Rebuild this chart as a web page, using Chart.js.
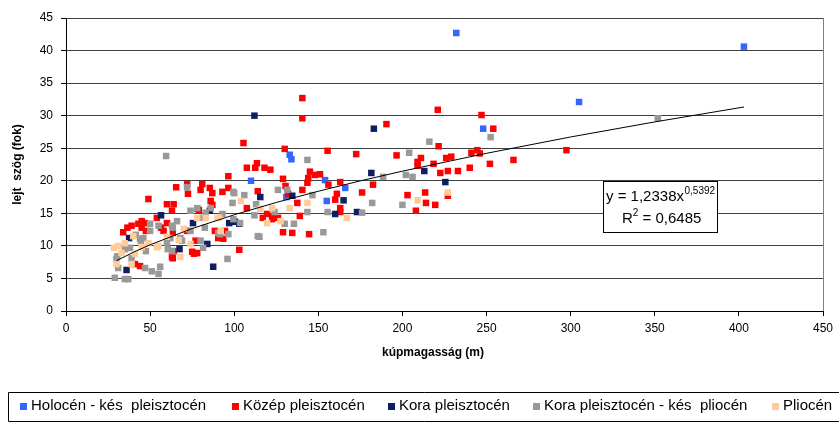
<!DOCTYPE html>
<html>
<head>
<meta charset="utf-8">
<script src="https://cdn.jsdelivr.net/npm/chart.js@4/dist/chart.umd.min.js"></script>
<style>
  html, body { margin: 0; padding: 0; background: #fff; }
  #wrap { width: 839px; height: 422px; position: relative; }
</style>
</head>
<body>
<div id="wrap"><canvas id="c" width="839" height="422"></canvas></div>
<script>
// Series: [kúpmagasság (m), lejtőszög (fok)]
const holocen = [
  [232,42.7],[403,40.6],[305,32.1],[248,28.0],[133,24.0],[134,23.3],[110,20.0],
  [154,20.1],[166,18.9],[155,16.9],[131,17.5]
];

const kozep = [
  [140.5,32.7],[140.5,29.6],[221,30.9],[247,30.1],[254,28.0],[190.5,28.7],[105.5,25.8],
  [130,24.9],[155.5,24.6],[172.5,24.1],[196.5,23.9],[221.5,25.3],[211,23.5],[209,22.9],
  [209,22.3],[218.5,22.6],[226,23.5],[229,23.7],[241,24.3],[244.5,24.7],[246,24.2],
  [252,22.6],[266,23.2],[297.5,24.7],[222.5,21.2],[227,21.5],[233,21.5],[240,22.0],
  [227,17.7],[203,17.8],[213.5,18.2],[214,16.6],[219.5,16.3],[208,15.4],[176,18.2],
  [182.5,19.4],[163,19.8],[156,19.4],[161,18.0],[160,17.1],[163,15.8],[163,15.2],
  [144.5,11.8],[129,12.1],[134.5,12.0],[139,14.6],[137.5,16.6],[140.5,18.6],[144,20.4],
  [145,21.4],[148,20.9],[151,21.0],[143.5,19.7],[129,20.3],[130.5,19.2],[132,18.0],
  [113.5,22.7],[112.5,22.0],[118,22.0],[121.5,21.7],[107.5,22.0],[96.5,20.7],[114,18.4],
  [107.5,15.8],[93,18.3],[87,18.1],[86,16.9],[81,19.5],[85.5,18.9],[96.5,18.9],[80,18.6],
  [88.5,12.3],[94.5,12.3],[123,14.6],[122.5,14.1],[117,14.3],[126,14.3],[119.5,14.9],
  [65.5,19.0],[72.5,18.0],[72,19.5],[49,17.2],[60,16.4],[64,16.4],[63,15.4],[79,15.5],
  [78,15.7],[87,16.3],[60,13.5],[56.5,12.8],[54,14.3],[47,13.5],[45,12.8],[63.5,12.0],
  [58,12.3],[47.5,12.3],[90.5,11.2],[93.5,11.1],[63.5,8.1],[63,8.3],[64,9.2],[75,9.1],
  [76,8.8],[78,8.9],[103,9.4],[77,10.8],[72,12.3],[34,12.1],[39,13.1],[43,13.4],
  [45,13.8],[36.5,12.8],[41,7.2],[44,6.9]
];

const kora = [
  [112,30.0],[183,28.0],[181.5,21.2],[213,21.5],[225.5,19.8],[115.5,17.5],[134.5,17.7],
  [165,17.0],[173,15.2],[160,14.9],[97,13.5],[103,13.4],[56.5,14.7],[84,10.3],
  [87.5,6.8],[75.5,13.5],[67.5,9.5],[85.5,15.4],[37.5,11.2],[36,6.3],[100.5,13.7]
];

const koraKes = [
  [351.8,29.6],[252.4,26.7],[216,26.0],[204,24.3],[143.5,23.2],[202,20.9],[206,20.6],
  [188.5,20.6],[182,16.6],[200,16.3],[176,15.1],[155.5,15.2],[143.5,15.2],[153,12.1],
  [115,11.4],[130,13.4],[146.5,17.8],[126,18.6],[100,18.1],[106,17.8],[113,16.4],
  [99,16.6],[124,15.2],[86,15.8],[81.5,14.3],[72,19.0],[78,15.8],[93,14.9],[112,14.7],
  [99.5,14.1],[90.5,12.0],[96.5,11.8],[96,8.0],[74,15.4],[66,13.8],[63.5,12.8],
  [62,11.2],[68,11.2],[60.5,9.5],[47,6.6],[51,6.1],[56,6.8],[55,5.7],[50,13.4],
  [50,12.3],[46,11.2],[81.5,9.7],[82.5,12.8],[103.5,13.5],[114,11.5],[59.5,23.8],
  [99.5,18.3],[131.5,18.6],[135.5,13.4],[30.5,8.4],[29,5.1],[35,4.9],[37,4.9],[31,6.6],
  [41.5,11.7],[44.5,10.8],[47.5,9.2],[63,13.1],[69,10.8],[74,12.3],[80,10.8],[83,15.1],
  [91.5,11.8],[60,10.5],[63,9.2],[39,8.1],[38,9.7],[55,13.1],[30,8.0],[35,9.5],[44,11.1]
];

const pliocen = [
  [227,18.2],[209,17.0],[167,14.3],[143.5,16.6],[133,15.8],[122.5,15.8],[127.5,13.8],
  [119.5,13.5],[104,16.9],[115.5,15.7],[90,14.3],[67,10.9],[54,9.8],[68,8.3],[74,10.3],
  [78,14.3],[91,14.3],[92,12.3],[70,12.6],[31,10.0],[33,8.9],[30,7.2],[39,7.2],[41,8.8],
  [40,11.5],[35,10.4],[28.5,9.7],[49,10.4],[55,10.0],[83,14.3],[60,11.4],[45,9.8]
];

// Power trendline y = 1,2338x^0,5392, sampled along the fitted range
const trendX = [30, 40, 50, 75, 100, 125, 150, 175, 200, 250, 300, 350, 403];
const trendY = [7.72, 9.02, 10.17, 12.66, 14.78, 16.67, 18.39, 19.99, 21.48, 24.22, 26.73, 29.04, 31.33];

const seriesNames = [
  'Holocén - kés  pleisztocén',
  'Közép pleisztocén',
  'Kora pleisztocén',
  'Kora pleisztocén - kés  pliocén',
  'Pliocén'
];
const seriesColors = ['#3366ff', '#ff0000', '#0d1f63', '#999999', '#ffcc99'];

const xTicks = [0, 50, 100, 150, 200, 250, 300, 350, 400, 450];
const yTicks = [0, 5, 10, 15, 20, 25, 30, 35, 40, 45];

const xTitle = 'kúpmagasság (m)';
const yTitle = 'lejt  szög (fok)';
const eqMain = 'y = 1,2338x';
const eqExp = '0,5392';
const r2Text = ' = 0,6485';

const FONT = '"Liberation Sans", Arial, Helvetica, sans-serif';

const toPoints = arr => arr.map(p => ({ x: p[0], y: p[1] }));
const seriesData = [holocen, kozep, kora, koraKes, pliocen];

const datasets = seriesData.map((arr, i) => ({
  label: seriesNames[i],
  data: toPoints(arr),
  backgroundColor: seriesColors[i],
  borderColor: seriesColors[i],
  borderWidth: 0,
  pointStyle: 'rect',
  pointRadius: 4.6,
  pointHoverRadius: 4.6,
  order: 10 - i
}));

datasets.push({
  label: 'trend',
  data: trendX.map((x, i) => ({ x, y: trendY[i] })),
  showLine: true,
  borderColor: '#000',
  borderWidth: 1,
  pointRadius: 0,
  fill: false,
  tension: 0,
  order: 0
});

// Extra drawing: right frame line, equation box, axis titles, legend box
const decorations = {
  id: 'decorations',
  afterDatasetsDraw(chart) {
    const ctx = chart.ctx;
    const a = chart.chartArea;
    ctx.save();

    // right edge of the plot area
    ctx.strokeStyle = '#808080';
    ctx.lineWidth = 1;
    ctx.beginPath();
    ctx.moveTo(Math.round(a.right) + 0.5, a.top);
    ctx.lineTo(Math.round(a.right) + 0.5, a.bottom);
    ctx.stroke();

    // equation box
    const bx = 603, by = 181, bw = 114, bh = 51;
    ctx.fillStyle = '#fff';
    ctx.fillRect(bx, by, bw, bh);
    ctx.strokeStyle = '#000';
    ctx.strokeRect(bx + 0.5, by + 0.5, bw, bh);
    ctx.fillStyle = '#000';
    ctx.textBaseline = 'alphabetic';
    ctx.textAlign = 'left';
    ctx.font = '15px ' + FONT;
    ctx.fillText(eqMain, 606, 201);
    const w1 = ctx.measureText(eqMain).width;
    ctx.font = '10px ' + FONT;
    ctx.fillText(eqExp, 606 + w1 + 0.5, 194);
    ctx.font = '15px ' + FONT;
    ctx.fillText('R', 622, 223);
    const wr = ctx.measureText('R').width;
    ctx.font = '10px ' + FONT;
    ctx.fillText('2', 622 + wr, 216);
    const w2 = ctx.measureText('2').width;
    ctx.font = '15px ' + FONT;
    ctx.fillText(r2Text, 622 + wr + w2, 223);

    // axis titles
    ctx.font = 'bold 12px ' + FONT;
    ctx.textAlign = 'center';
    ctx.textBaseline = 'middle';
    ctx.fillText(xTitle, 433, 353);
    ctx.save();
    ctx.translate(18, (a.top + a.bottom) / 2);
    ctx.rotate(-Math.PI / 2);
    ctx.fillText(yTitle, 0, 0);
    ctx.restore();

    // legend box
    ctx.strokeStyle = '#000';
    ctx.lineWidth = 1;
    ctx.beginPath();
    ctx.moveTo(850, 392.5);
    ctx.lineTo(8.5, 392.5);
    ctx.lineTo(8.5, 421.5);
    ctx.lineTo(850, 421.5);
    ctx.stroke();

    const legendX = [20, 232, 388, 533, 772];
    ctx.font = '15px ' + FONT;
    ctx.textAlign = 'left';
    ctx.textBaseline = 'middle';
    seriesNames.forEach((name, i) => {
      const mx = legendX[i];
      ctx.fillStyle = seriesColors[i];
      ctx.fillRect(mx, 403, 7, 7);
      ctx.fillStyle = '#000';
      ctx.fillText(name, mx + 11, 406);
    });

    ctx.restore();
  }
};

new Chart(document.getElementById('c'), {
  type: 'scatter',
  data: { datasets },
  options: {
    responsive: false,
    animation: false,
    devicePixelRatio: 1,
    layout: { padding: { top: 18, right: 16, bottom: 0, left: 0 } },
    plugins: {
      legend: { display: false },
      tooltip: { enabled: false }
    },
    scales: {
      x: {
        type: 'linear',
        min: xTicks[0],
        max: xTicks[xTicks.length - 1],
        afterBuildTicks(s) { s.ticks = xTicks.map(v => ({ value: v })); },
        ticks: { color: '#000', font: { size: 12, family: FONT }, padding: 5, maxRotation: 0, autoSkip: false },
        grid: { drawOnChartArea: false, drawTicks: true, tickLength: 5, tickColor: '#000' },
        border: { color: '#000', width: 1 },
        afterFit(s) { s.height = 111; }
      },
      y: {
        min: yTicks[0],
        max: yTicks[yTicks.length - 1],
        afterBuildTicks(s) { s.ticks = yTicks.map(v => ({ value: v })); },
        ticks: { color: '#000', font: { size: 12, family: FONT }, padding: 8, autoSkip: false },
        grid: { color: '#404040', lineWidth: 1, drawTicks: true, tickLength: 5, tickColor: '#000' },
        border: { color: '#000', width: 1 },
        afterFit(s) { s.width = 66; }
      }
    }
  },
  plugins: [decorations]
});
</script>
</body>
</html>
